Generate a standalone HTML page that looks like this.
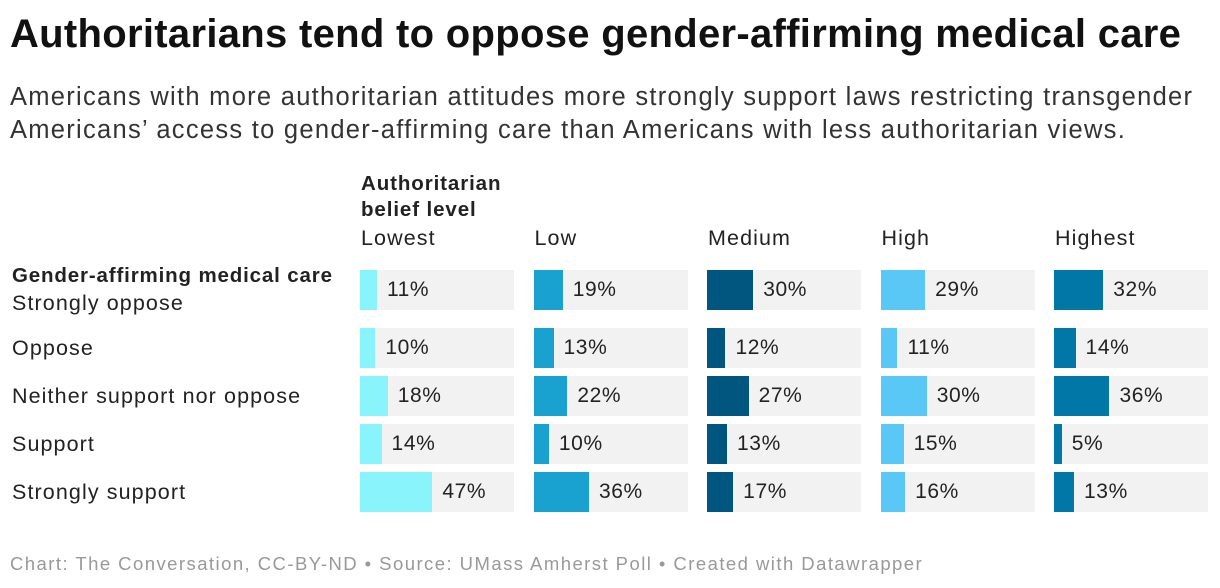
<!DOCTYPE html>
<html><head><meta charset="utf-8"><style>
body{margin:0;width:1220px;height:588px;background:#fff;font-family:"Liberation Sans",sans-serif;color:#1d1d1d;position:relative;overflow:hidden}
.abs{position:absolute;white-space:nowrap}
h1{position:absolute;left:10px;top:12px;margin:0;font-size:40px;font-weight:bold;letter-spacing:0.3px;color:#111}
.sub{left:10px;top:81px;font-size:25.5px;line-height:33px;color:#333;letter-spacing:1.28px}
.lbl{font-size:21.5px;color:#222;letter-spacing:1.1px}
.val{font-size:21px;color:#222;letter-spacing:0.6px}
.foot{left:10px;top:553px;font-size:18.5px;color:#999;letter-spacing:1.45px}
</style></head><body>
<h1>Authoritarians tend to oppose gender-affirming medical care</h1>
<div class="abs sub">Americans with more authoritarian attitudes more strongly support laws restricting transgender<br>Americans’ access to gender-affirming care than Americans with less authoritarian views.</div>
<div class="abs lbl" style="left:361px;top:171px;font-weight:bold;line-height:26px;font-size:20.5px;letter-spacing:0.9px">Authoritarian<br>belief level</div>
<div class="abs lbl" style="left:12px;top:264px;font-weight:bold;font-size:20.5px;letter-spacing:0.85px">Gender-affirming medical care</div>
<div id="chart"></div>
<div class="abs foot">Chart: The Conversation, CC-BY-ND • Source: UMass Amherst Poll • Created with Datawrapper</div>
<script>
const levels=["Lowest","Low","Medium","High","Highest"];
const responses=["Strongly oppose","Oppose","Neither support nor oppose","Support","Strongly support"];
const lowest=[11,10,18,14,47];
const low=[19,13,22,10,36];
const medium=[30,12,27,13,17];
const high=[29,11,30,15,16];
const highest=[32,14,36,5,13];
const series=[lowest,low,medium,high,highest];
const colors=["#8af4fd","#19a2cf","#00567e","#5ac8f6","#0077a6"];
const colX=i=>360+i*173.5, colW=154;
const rowY=j=>j===0?270:328+(j-1)*48;
const xs=v=>v/100*colW;
const c=document.getElementById('chart');
levels.forEach((l,i)=>{
  const h=document.createElement('div');h.className='abs lbl';h.style.left=(colX(i)+1)+'px';h.style.top='226px';h.textContent=l;
  
  
  c.appendChild(h);
});
responses.forEach((r,j)=>{
  const t=document.createElement('div');t.className='abs lbl';t.style.left='12px';t.style.top=(j===0?291:rowY(j)+8)+'px';t.textContent=r;
  
  
  c.appendChild(t);
  series.forEach((s,i)=>{
    const bg=document.createElement('div');bg.className='abs';
    bg.style.cssText=`left:${colX(i)}px;top:${rowY(j)}px;width:${colW}px;height:40px;background:#f2f2f2`;
    
    
    c.appendChild(bg);
    const b=document.createElement('div');b.className='abs';
    b.style.cssText=`left:${colX(i)}px;top:${rowY(j)}px;width:${xs(s[j])}px;height:40px;background:${colors[i]}`;
    
    
    c.appendChild(b);
    const v=document.createElement('div');v.className='abs val';
    v.style.cssText=`left:${colX(i)+xs(s[j])+10}px;top:${rowY(j)+8}px`;
    v.textContent=s[j]+'%';
    
    
    c.appendChild(v);
  });
});
</script>
</body></html>
